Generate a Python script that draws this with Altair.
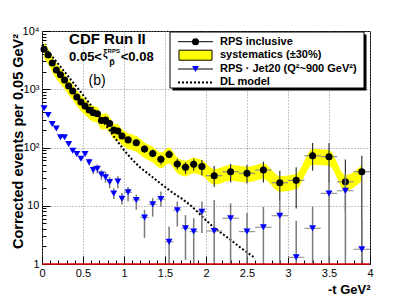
import altair as alt
import pandas as pd

# ---------------- data ----------------
bin_x = [0.025, 0.075, 0.125, 0.175, 0.225, 0.275, 0.325, 0.375, 0.425, 0.475,
         0.525, 0.575, 0.625, 0.675, 0.725, 0.775, 0.825, 0.875, 0.925, 0.975,
         1.05, 1.15, 1.25, 1.35, 1.45, 1.55, 1.65, 1.75, 1.85, 1.95,
         2.1, 2.3, 2.5, 2.7, 2.9, 3.1, 3.3, 3.5, 3.7, 3.9]
bin_w = [0.05] * 20 + [0.1] * 10 + [0.2] * 10

# RPS inclusive
inc_y = [4850, 3870, 2830, 2140, 1770, 1440, 1140, 930, 736, 605,
         516, 440, 395, 380, 290, 297, 258, 199, 192, 158,
         135, 121, 94, 79, 63, 76, 52, 45.6, 51.5, 47,
         32.8, 38.4, 36, 41, 24.9, 27.3, 72.3, 69.5, 25.8, 38.4]
inc_hi = [None] * 20 + [150, 136, 108, 92, 73, 90, 64, 56, 64, 61,
                        48, 52, 50, 57, 40, 46, 120, 118, 62, 72]
inc_lo = [None] * 20 + [120, 107, 81, 68, 51, 66, 42, 35, 40, 33,
                        21, 25, 24, 25, 12, 9, 40, 25, 8, 1]
sys_frac = 0.30

# RPS . Jet20
jet_y = [470, 362, 253, 212, 150, 150, 115, 88, 77, 64,
         77, 56, 41, 43, 34.5, 31, 25.5, 16.3, 26, 13.2,
         17, 12.6, 6.3, 10.6, 13, 2.4, 8.4, 4.1, 3.6, 7.9,
         3.68, 6.1, 3.6, 4.26, 6.75, 1.30, 4.1, 16.3, 18.1, 1.79]
jet_hi = [None] * 11 + [64, 48, 51, 41, 38, 31, 20, 32, 16.5,
                        21, 15.5, 8.5, 13.5, 17.5, 4.4, 11.8, 6.9, 6.1, 11.8,
                        12.6, 11, 7.5, 9.6, 12, 5.5, 9.6, 35, 35, 5.5]
jet_lo = [None] * 11 + [49, 35, 36, 28, 25, 20, 13, 20, 10.5,
                        11.8, 8.5, 2.8, 6.5, 9.6, 1, 4.4, 1.17, 1, 3.4,
                        1, 1, 1, 1, 1, 1, 1, 1, 1, 1]

# DL model
dl_x = [0.0, 0.1, 0.2, 0.3, 0.4, 0.5, 0.6, 0.7, 0.8, 0.9, 1.0, 1.1, 1.2, 1.3,
        1.4, 1.5, 1.6, 1.7, 1.8, 1.9, 2.0, 2.1, 2.2, 2.3, 2.4, 2.5, 2.6]
dl_y = [5800, 4000, 2700, 1800, 1200, 800, 520, 340, 220, 140, 90, 62, 45, 35,
        27, 21, 16.5, 13.4, 10.5, 7.8, 5.6, 4.2, 3.3, 2.6, 2.0, 1.6, 1.25]

# axis ticks
x_major = [0, 0.5, 1, 1.5, 2, 2.5, 3, 3.5, 4]
x_minor = [0.1, 0.2, 0.3, 0.4, 0.6, 0.7, 0.8, 0.9, 1.1, 1.2, 1.3, 1.4,
           1.6, 1.7, 1.8, 1.9, 2.1, 2.2, 2.3, 2.4, 2.6, 2.7, 2.8, 2.9,
           3.1, 3.2, 3.3, 3.4, 3.6, 3.7, 3.8, 3.9]
y_major = [1, 10, 100, 1000, 10000]
y_minor = [2, 3, 4, 5, 6, 7, 8, 9, 20, 30, 40, 50, 60, 70, 80, 90,
           200, 300, 400, 500, 600, 700, 800, 900,
           2000, 3000, 4000, 5000, 6000, 7000, 8000, 9000]

legend_labels = ["RPS inclusive", "systematics (\u00b130%)",
                 "RPS \u00b7 Jet20 (Q\u00b2~900 GeV\u00b2)", "DL model"]

# ---------------- frames ----------------
inc = pd.DataFrame({"x": bin_x, "w": bin_w, "y": inc_y, "lo": inc_lo, "hi": inc_hi})
inc["x0"] = inc["x"] - inc["w"] / 2
inc["x1"] = inc["x"] + inc["w"] / 2
inc["slo"] = inc["y"] * (1 - sys_frac)
inc["shi"] = inc["y"] * (1 + sys_frac)
inc_err = inc.dropna(subset=["lo", "hi"])

jet = pd.DataFrame({"x": bin_x, "w": bin_w, "y": jet_y, "lo": jet_lo, "hi": jet_hi})
jet["x0"] = jet["x"] - jet["w"] / 2
jet["x1"] = jet["x"] + jet["w"] / 2
jet_err = jet.dropna(subset=["lo", "hi"])

dl = pd.DataFrame({"x": dl_x, "y": dl_y})
one = pd.DataFrame({"a": [0]})

FONT = "Liberation Sans"
X = alt.Scale(domain=[0, 4], nice=False, zero=False)
Y = alt.Scale(type="log", domain=[1, 10000], nice=False)


def xs(f):
    return alt.X(f, type="quantitative", scale=X, axis=None)


def ys(f):
    return alt.Y(f, type="quantitative", scale=Y, axis=None)


y_label_expr = ("datum.value == 10000 ? '10\u2074' : datum.value == 1000 ? '10\u00b3' : "
                "datum.value == 100 ? '10\u00b2' : datum.value == 10 ? '10' : '1'")

# systematics band carries the labelled axes and the grid
band = alt.Chart(inc).mark_area(color="#ffff00", interpolate="monotone").encode(
    x=alt.X("x:Q", scale=X, axis=alt.Axis(
        orient="bottom", values=x_major, format="~g", ticks=False, domain=False,
        grid=True, gridColor="#8a8a8a", gridDash=[1, 2], gridWidth=1,
        labelFlush=False, labelPadding=3, labelFont=FONT, labelFontSize=11,
        labelColor="black", title="-t GeV\u00b2", titleFont=FONT, titleFontSize=13,
        titleFontWeight="bold", titleColor="black", titleX=328, titleY=25,
        titleAlign="right", titleBaseline="middle")),
    y=alt.Y("slo:Q", scale=Y, axis=alt.Axis(
        orient="left", values=y_major, labelExpr=y_label_expr, ticks=False,
        domain=False, grid=True, gridColor="#8a8a8a", gridDash=[1, 2], gridWidth=1,
        labelPadding=3, labelFont=FONT, labelFontSize=11, labelColor="black",
        title="Corrected  events per 0.05 GeV\u00b2", titleFont=FONT,
        titleFontSize=14.5, titleFontWeight="bold", titleColor="black",
        titleX=-24, titleY=110, titleAngle=-90, titleAlign="center",
        titleBaseline="middle")),
    y2="shi:Q",
)

dl_line = alt.Chart(dl).mark_line(color="black", strokeDash=[2, 2], strokeWidth=2).encode(
    x=xs("x"), y=ys("y"))

inc_vbar = alt.Chart(inc_err).mark_rule(color="#333333", strokeWidth=1.2).encode(
    x=xs("x"), y=ys("lo"), y2="hi")
inc_hbar = alt.Chart(inc).mark_rule(color="#8c8c8c", strokeWidth=1.2).encode(
    x=xs("x0"), x2="x1", y=ys("y"))
inc_pts = alt.Chart(inc).mark_point(shape="circle", filled=True, size=50, color="black",
                                    opacity=1).encode(
    x=alt.X("x:Q", scale=X, axis=alt.Axis(
        orient="bottom", values=x_major, offset=-8, tickSize=8, labels=False,
        domain=False, grid=False, title=None, tickColor="black")),
    y=alt.Y("y:Q", scale=Y, axis=alt.Axis(
        orient="left", values=y_major, offset=-8, tickSize=8, labels=False,
        domain=False, grid=False, title=None, tickColor="black")),
)

jet_vbar = alt.Chart(jet_err).mark_rule(color="#7a7a7a", strokeWidth=1.5).encode(
    x=xs("x"), y=ys("lo"), y2="hi")
jet_hbar = alt.Chart(jet).mark_rule(color="#9a9a9a", strokeWidth=1.2).encode(
    x=xs("x0"), x2="x1", y=ys("y"))
jet_pts = alt.Chart(jet).mark_point(shape="triangle-down", filled=True, size=48,
                                    color="#0000ff", opacity=1).encode(
    x=alt.X("x:Q", scale=X, axis=alt.Axis(
        orient="bottom", values=x_minor, offset=-4, tickSize=4, labels=False,
        domain=False, grid=False, title=None, tickColor="black")),
    y=alt.Y("y:Q", scale=Y, axis=alt.Axis(
        orient="left", values=y_minor, offset=-4, tickSize=4, labels=False,
        domain=False, grid=False, title=None, tickColor="black")),
)

red_line = alt.Chart(one).mark_rule(color="#e00000", strokeWidth=1.5).encode(
    y=alt.Y(datum=1, scale=Y, axis=None))


def note(text, x, y, size, weight="bold", align="left"):
    return alt.Chart(one).mark_text(
        text=text, font=FONT, fontSize=size, fontWeight=weight, align=align,
        baseline="middle", color="black").encode(
        x=alt.X(datum=x, scale=X, axis=None), y=alt.Y(datum=y, scale=Y, axis=None))


notes = [
    note("CDF Run II", 0.33, 7300, 15),
    note("0.05<", 0.33, 3580, 13),
    note("\u03be", 0.745, 3950, 10),
    note("RPS", 0.80, 4500, 6),
    note("p\u0304", 0.82, 2900, 9),
    note("<0.08", 0.96, 3580, 13),
    note("(b)", 0.673, 1386, 14, weight="normal", align="center"),
]

# ---------------- legend (pixel layout, plot coordinates) ----------------
LX0, LX1, LY0, LY1 = 128, 322, 1, 57
SH = 2.5
SYM0, SYM1, LAB = 136, 171, 178
ROWS = [10.7, 24.2, 38.0, 51.4]
SYMC = (SYM0 + SYM1) / 2

leg = [
    alt.Chart(one).mark_rect(color="black").encode(
        x=alt.value(LX0 + SH), x2=alt.value(LX1 + SH),
        y=alt.value(LY0 + SH), y2=alt.value(LY1 + SH)),
    alt.Chart(one).mark_rect(fill="white", stroke="black", strokeWidth=1).encode(
        x=alt.value(LX0), x2=alt.value(LX1), y=alt.value(LY0), y2=alt.value(LY1)),
    alt.Chart(one).mark_rule(color="black", strokeWidth=1).encode(
        x=alt.value(SYM0), x2=alt.value(SYM1), y=alt.value(ROWS[0])),
    alt.Chart(one).mark_point(shape="circle", filled=True, size=50, color="black",
                              opacity=1).encode(
        x=alt.value(SYMC), y=alt.value(ROWS[0])),
    alt.Chart(one).mark_rect(fill="#ffff00", stroke="black", strokeWidth=1).encode(
        x=alt.value(SYM0 + 1), x2=alt.value(SYM1 - 1),
        y=alt.value(ROWS[1] - 5), y2=alt.value(ROWS[1] + 5)),
    alt.Chart(one).mark_rule(color="black", strokeWidth=1).encode(
        x=alt.value(SYM0), x2=alt.value(SYM1), y=alt.value(ROWS[2])),
    alt.Chart(one).mark_point(shape="triangle-down", filled=True, size=48,
                              color="#0000ff", opacity=1).encode(
        x=alt.value(SYMC), y=alt.value(ROWS[2])),
    alt.Chart(one).mark_rule(color="black", strokeWidth=2, strokeDash=[2, 2]).encode(
        x=alt.value(SYM0), x2=alt.value(SYM1), y=alt.value(ROWS[3])),
]
for lab, ry in zip(legend_labels, ROWS):
    leg.append(alt.Chart(one).mark_text(
        text=lab, font=FONT, fontSize=11, fontWeight="bold", align="left",
        baseline="middle", color="black").encode(x=alt.value(LAB), y=alt.value(ry)))

chart = alt.layer(
    band, dl_line, inc_hbar, inc_vbar, inc_pts, jet_hbar, jet_vbar, jet_pts,
    red_line, *notes, *leg
).resolve_axis(x="independent", y="independent").properties(
    width=328, height=233,
    padding={"left": 34, "top": 23, "right": 13, "bottom": 34},
    autosize=alt.AutoSizeParams(type="none"),
    background="white",
).configure_view(stroke="black", strokeWidth=1)

chart.save("out.html", embed_options={"renderer": "svg", "actions": False})
